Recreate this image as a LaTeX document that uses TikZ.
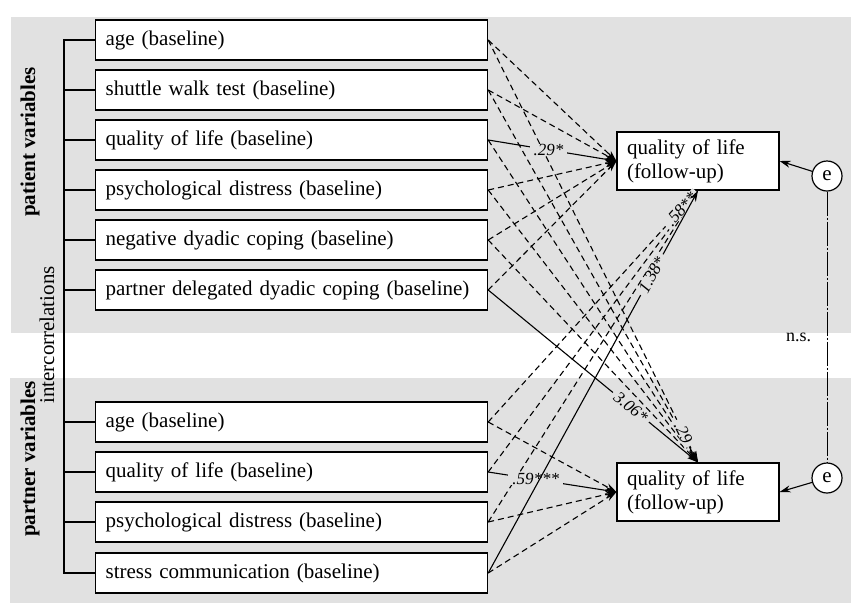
\documentclass[tikz,border=0pt]{standalone}
\usepackage{fontspec}
\setmainfont{Liberation Serif}
\usepackage{tikz}
\usetikzlibrary{arrows.meta}
\definecolor{bandgray}{RGB}{225,225,225}

\begin{document}
\begin{tikzpicture}[x=1pt, y=-1pt,
    font=\fontsize{21}{24}\selectfont,
    var/.style={draw, line width=1.2pt, fill=white, anchor=west, minimum height=40pt,
      text width=372pt, inner xsep=10pt, align=left},
    outc/.style={draw, line width=1.2pt, fill=white, minimum width=162pt, minimum height=58pt,
      text width=142pt, inner xsep=10pt, align=left},
    err/.style={circle, draw, line width=1.2pt, fill=white, minimum size=30pt, inner sep=0pt},
    sig/.style={line width=1.1pt, -{Stealth[length=11pt,width=7pt]}},
    nsig/.style={sig, dash pattern=on 6pt off 4pt},
    coef/.style={font=\fontsize{17}{19}\selectfont\itshape, fill=bandgray, inner xsep=4pt, inner ysep=0pt}]
    \useasboundingbox (0,0) rectangle (851,603);
    \fill[bandgray] (11,17) rectangle (851,333);
    \fill[bandgray] (10,378) rectangle (851,603);

    % predictors
    \node[var] (p1) at (95,40) {age (baseline)};
    \node[var] (p2) at (95,90) {shuttle walk test (baseline)};
    \node[var] (p3) at (95,140) {quality of life (baseline)};
    \node[var] (p4) at (95,190) {psychological distress (baseline)};
    \node[var] (p5) at (95,240) {negative dyadic coping (baseline)};
    \node[var] (p6) at (95,290) {partner delegated dyadic coping (baseline)};
    \node[var] (r1) at (95,422) {age (baseline)};
    \node[var] (r2) at (95,472) {quality of life (baseline)};
    \node[var] (r3) at (95,522) {psychological distress (baseline)};
    \node[var] (r4) at (95,573) {stress communication (baseline)};

    % outcomes
    \node[outc] (pfu) at (698,161) {quality of life\\(follow-up)};
    \node[outc] (rfu) at (698,492) {quality of life\\(follow-up)};
    \node[err] (pe) at (827,176) {e};
    \node[err] (re) at (827,478) {e};

    \node[rotate=90, font=\fontsize{21}{24}\selectfont\bfseries] (patlab) at (30,142) {patient variables};
    \node[rotate=90, font=\fontsize{21}{24}\selectfont\bfseries] (parlab) at (30,459) {partner variables};
    \node[rotate=90] (corlab) at (47,335) {intercorrelations};

    % intercorrelations
    \draw[line width=1.2pt] (p1.west) -- ++(-31,0) |- (r4.west);
    \draw[line width=1.2pt] (p2.west) -- ++(-31,0);
    \draw[line width=1.2pt] (p3.west) -- ++(-31,0);
    \draw[line width=1.2pt] (p4.west) -- ++(-31,0);
    \draw[line width=1.2pt] (p5.west) -- ++(-31,0);
    \draw[line width=1.2pt] (p6.west) -- ++(-31,0);
    \draw[line width=1.2pt] (r1.west) -- ++(-31,0);
    \draw[line width=1.2pt] (r2.west) -- ++(-31,0);
    \draw[line width=1.2pt] (r3.west) -- ++(-31,0);

    % n.s. paths
    \draw[nsig] (p1.east) -- (pfu.west);
    \draw[nsig] (p2.east) -- (pfu.west);
    \draw[nsig] (p4.east) -- (pfu.west);
    \draw[nsig] (p5.east) -- (pfu.west);
    \draw[nsig] (p6.east) -- (pfu.west);
    \draw[nsig] (p2.east) -- (rfu.north);
    \draw[nsig] (p3.east) -- (rfu.north);
    \draw[nsig] (p4.east) -- (rfu.north);
    \draw[nsig] (p5.east) -- (rfu.north);
    \draw[nsig] (r1.east) -- (rfu.west);
    \draw[nsig] (r3.east) -- (rfu.west);
    \draw[nsig] (r4.east) -- (rfu.west);
    \draw[nsig] (r2.east) -- (pfu.south);
    \draw[nsig] (r3.east) -- (pfu.south);

    % labelled paths
    \draw[nsig] (p1.east) -- node[coef, sloped, pos=0.93] {.29} (rfu.north);
    \draw[nsig] (r1.east) -- node[coef, sloped, pos=0.92] {.58**} (pfu.south);
    \draw[sig] (p3.east) -- node[coef, pos=0.47] {.29*} (pfu.west);
    \draw[sig] (p6.east) -- node[coef, sloped, pos=0.68] {3.06*} (rfu.north);
    \draw[sig] (r2.east) -- node[coef, pos=0.37] {.59***} (rfu.west);
    \draw[sig] (r4.east) -- node[coef, sloped, pos=0.78] {1.38*} (pfu.south);

    % residuals
    \draw[sig] (pe) -- (pfu.east);
    \draw[sig] (re) -- (rfu.east);
    \draw[line width=1pt, dash pattern=on 24pt off 2pt on 2pt off 2pt]
      (pe) -- node[pos=0.54, left=12pt, font=\fontsize{18}{20}\selectfont] {n.s.} (re);
\end{tikzpicture}
\end{document}
